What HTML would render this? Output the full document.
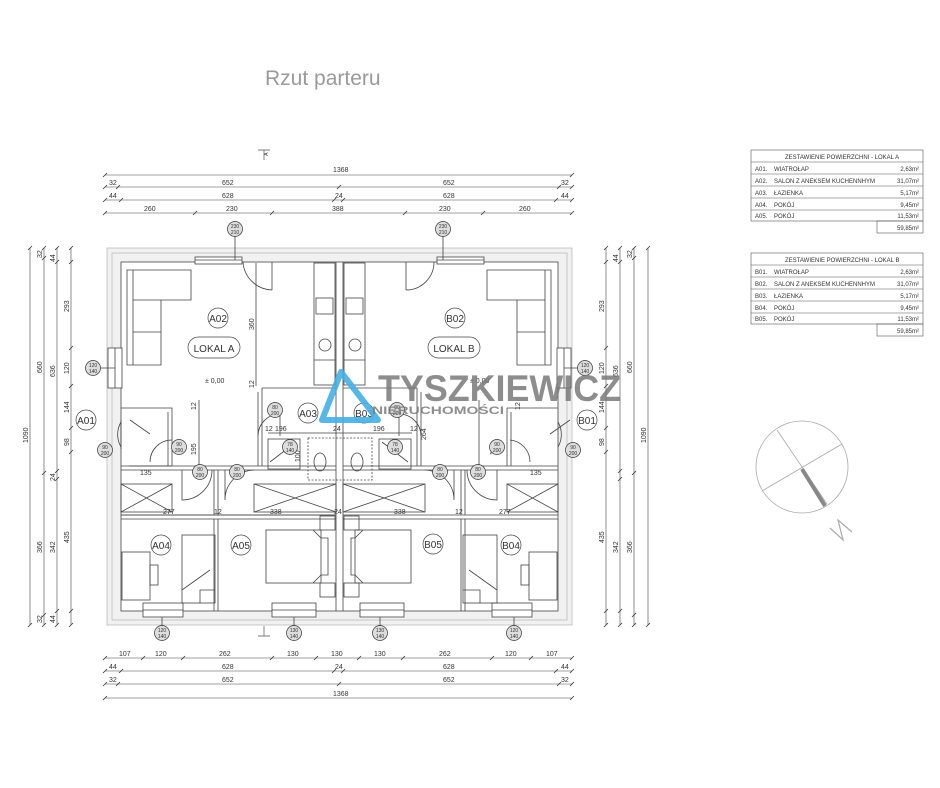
<!DOCTYPE html>
<html><head><meta charset="utf-8"><style>
html,body{margin:0;padding:0;background:#fff;}
svg{display:block;}
text{font-family:"Liberation Sans",sans-serif;fill:#333;}
.d{font-size:7px;}
.t{font-size:5.5px;}
</style></head><body>
<svg width="940" height="788" viewBox="0 0 940 788" xmlns="http://www.w3.org/2000/svg">
<rect width="940" height="788" fill="#fff"/>
<text x="265" y="85" style="font-size:21px;fill:#9a9a9a">Rzut parteru</text>

<g stroke="#555" stroke-width="0.7" fill="none">
<path d="M258 150 L270 150 M264 150 L264 160"/><path d="M258 636 L270 636 M264 636 L264 626"/>
</g>
<text x="262" y="158" class="t" transform="rotate(-90 264 154)">A</text>

<g stroke="#444" stroke-width="0.6" fill="none">
<line x1="105" y1="175" x2="572" y2="175"/>
<line x1="105" y1="187" x2="572" y2="187"/>
<line x1="105" y1="200" x2="572" y2="200"/>
<line x1="105" y1="213" x2="572" y2="213"/>
<line x1="105" y1="658" x2="572" y2="658"/>
<line x1="105" y1="671" x2="572" y2="671"/>
<line x1="105" y1="684" x2="572" y2="684"/>
<line x1="105" y1="698" x2="572" y2="698"/>
<line x1="30" y1="248" x2="30" y2="625"/>
<line x1="44" y1="248" x2="44" y2="625"/>
<line x1="57" y1="248" x2="57" y2="625"/>
<line x1="71" y1="248" x2="71" y2="625"/>
<line x1="606" y1="248" x2="606" y2="625"/>
<line x1="620" y1="248" x2="620" y2="625"/>
<line x1="634" y1="248" x2="634" y2="625"/>
<line x1="648" y1="248" x2="648" y2="625"/>
</g>
<g stroke="#333" stroke-width="0.8">
<path d="M103 177l4-4M570 177l4-4M103 189l4-4M116 189l4-4M337 189l4-4M557 189l4-4M570 189l4-4
M103 202l4-4M119 202l4-4M332 202l4-4M341 202l4-4M554 202l4-4M570 202l4-4
M103 215l4-4M193 215l4-4M270 215l4-4M403 215l4-4M481 215l4-4M570 215l4-4
M103 660l4-4M141 660l4-4M181 660l4-4M270 660l4-4M314 660l4-4M357 660l4-4M401 660l4-4M490 660l4-4M529 660l4-4M570 660l4-4
M103 673l4-4M119 673l4-4M332 673l4-4M341 673l4-4M554 673l4-4M570 673l4-4
M103 686l4-4M116 686l4-4M337 686l4-4M557 686l4-4M570 686l4-4M103 700l4-4M570 700l4-4
M28 250l4-4M28 627l4-4M42 250l4-4M42 260l4-4M42 475l4-4M42 617l4-4M42 627l4-4
M55 250l4-4M55 264l4-4M55 473l4-4M55 481l4-4M55 613l4-4M55 627l4-4
M69 250l4-4M69 264l4-4M69 350l4-4M69 388l4-4M69 430l4-4M69 454l4-4M69 613l4-4M69 627l4-4
M604 250l4-4M604 264l4-4M604 350l4-4M604 388l4-4M604 430l4-4M604 454l4-4M604 613l4-4M604 627l4-4
M618 250l4-4M618 264l4-4M618 473l4-4M618 481l4-4M618 613l4-4M618 627l4-4
M632 250l4-4M632 260l4-4M632 475l4-4M632 617l4-4M632 627l4-4M646 250l4-4M646 627l4-4"/>
</g>
<g class="d">
<text x="333" y="172" class="d">1368</text>
<text x="109" y="185" class="d">32</text><text x="222" y="185" class="d">652</text><text x="443" y="185" class="d">652</text><text x="561" y="185" class="d">32</text>
<text x="109" y="198" class="d">44</text><text x="222" y="198" class="d">628</text><text x="335" y="198" class="d">24</text><text x="443" y="198" class="d">628</text><text x="561" y="198" class="d">44</text>
<text x="144" y="211" class="d">260</text><text x="226" y="211" class="d">230</text><text x="332" y="211" class="d">388</text><text x="439" y="211" class="d">230</text><text x="519" y="211" class="d">260</text>
<text x="119" y="656" class="d">107</text><text x="155" y="656" class="d">120</text><text x="219" y="656" class="d">262</text><text x="287" y="656" class="d">130</text><text x="331" y="656" class="d">130</text><text x="374" y="656" class="d">130</text><text x="439" y="656" class="d">262</text><text x="505" y="656" class="d">120</text><text x="546" y="656" class="d">107</text>
<text x="109" y="669" class="d">44</text><text x="222" y="669" class="d">628</text><text x="335" y="669" class="d">24</text><text x="443" y="669" class="d">628</text><text x="561" y="669" class="d">44</text>
<text x="109" y="682" class="d">32</text><text x="222" y="682" class="d">652</text><text x="443" y="682" class="d">652</text><text x="561" y="682" class="d">32</text>
<text x="333" y="696" class="d">1368</text>
</g>
<g class="d">
<text transform="translate(28 443) rotate(-90)" class="d">1090</text>
<text transform="translate(42 258) rotate(-90)" class="d">32</text>
<text transform="translate(42 373) rotate(-90)" class="d">660</text>
<text transform="translate(42 553) rotate(-90)" class="d">366</text>
<text transform="translate(42 623) rotate(-90)" class="d">32</text>
<text transform="translate(55 262) rotate(-90)" class="d">44</text>
<text transform="translate(55 377) rotate(-90)" class="d">636</text>
<text transform="translate(55 481) rotate(-90)" class="d">24</text>
<text transform="translate(55 553) rotate(-90)" class="d">342</text>
<text transform="translate(55 623) rotate(-90)" class="d">44</text>
<text transform="translate(69 312) rotate(-90)" class="d">293</text>
<text transform="translate(69 374) rotate(-90)" class="d">120</text>
<text transform="translate(69 413) rotate(-90)" class="d">144</text>
<text transform="translate(69 446) rotate(-90)" class="d">98</text>
<text transform="translate(69 543) rotate(-90)" class="d">435</text>
<text transform="translate(604 312) rotate(-90)" class="d">293</text>
<text transform="translate(604 374) rotate(-90)" class="d">120</text>
<text transform="translate(604 413) rotate(-90)" class="d">144</text>
<text transform="translate(604 446) rotate(-90)" class="d">98</text>
<text transform="translate(604 543) rotate(-90)" class="d">435</text>
<text transform="translate(618 262) rotate(-90)" class="d">44</text>
<text transform="translate(618 377) rotate(-90)" class="d">636</text>
<text transform="translate(618 553) rotate(-90)" class="d">342</text>
<text transform="translate(632 258) rotate(-90)" class="d">32</text>
<text transform="translate(632 373) rotate(-90)" class="d">660</text>
<text transform="translate(632 553) rotate(-90)" class="d">366</text>
<text transform="translate(646 443) rotate(-90)" class="d">1090</text>
</g>

<!-- building walls -->
<path d="M107 248 H572 V625 H107 Z M121 262 V611 H558 V262 Z" fill="#f1f1f1" fill-rule="evenodd"/>
<g fill="none" stroke="#bbb" stroke-width="0.8">
<rect x="107" y="248" width="465" height="377"/>
<rect x="112" y="253" width="455" height="367"/>
</g>
<g fill="none" stroke="#444" stroke-width="0.8">
<rect x="121" y="262" width="437" height="349"/>
<line x1="336" y1="262" x2="336" y2="611"/><line x1="343" y1="262" x2="343" y2="611"/>
<path d="M262 388 L262 466 M262 388 L336 388 M343 388 L417 388 L417 466"/>
<path d="M258 392 L258 466 M421 392 L421 466"/>
<path d="M121 408 L172 408 L172 466 M168 412 L168 466 M558 408 L507 408 L507 466 M511 412 L511 466"/>
<path d="M121 466 L336 466 M121 470 L336 470 M343 466 L558 466 M343 470 L558 470"/>
<path d="M121 515 L336 515 M121 519 L336 519 M343 515 L558 515 M343 519 L558 519"/>
<path d="M214 519 L214 611 M218 519 L218 611 M461 519 L461 611 M465 519 L465 611"/>
<path d="M214 470 L214 515 M218 470 L218 515 M461 470 L461 515 M465 470 L465 515"/>
<rect x="121" y="484" width="51" height="28"/><path d="M121 484 L172 512 M172 484 L121 512"/>
<rect x="254" y="484" width="82" height="28"/><path d="M254 484 L336 512 M336 484 L254 512"/>
<rect x="343" y="484" width="82" height="28"/><path d="M343 484 L425 512 M425 484 L343 512"/>
<rect x="507" y="484" width="51" height="28"/><path d="M507 484 L558 512 M558 484 L507 512"/>
<path d="M272 262 L272 290 M272 290 A30 30 0 0 1 243 262"/>
<path d="M406 262 L406 290 M406 290 A28 28 0 0 0 434 262"/>
<path d="M182 470 L182 500 A 30 30 0 0 0 212 470" />
<path d="M225 470 L225 500 A 30 30 0 0 1 254 470" />
<path d="M497 470 L497 500 A 30 30 0 0 1 467 470" />
<path d="M454 470 L454 500 A 30 30 0 0 0 425 470" />
<path d="M258 436 A22 22 0 0 1 280 414 L280 436"/>
<path d="M421 436 A22 22 0 0 0 399 414 L399 436"/>
<path d="M121 422 A25 25 0 0 0 121 447 M121 420 L121 449"/>
<path d="M558 422 A25 25 0 0 1 558 447"/>
<path d="M172 440 A22 22 0 0 0 150 462 M510 440 A22 22 0 0 1 530 462"/>
<rect x="195" y="257" width="47" height="7" fill="#fff"/><line x1="195" y1="260" x2="242" y2="260"/>
<rect x="437" y="257" width="47" height="7" fill="#fff"/><line x1="437" y1="260" x2="484" y2="260"/>
<rect x="108" y="348" width="14" height="40" fill="#fff"/><line x1="115" y1="348" x2="115" y2="388"/>
<rect x="557" y="348" width="14" height="40" fill="#fff"/><line x1="564" y1="348" x2="564" y2="388"/>
<rect x="143" y="603" width="40" height="14" fill="#fff"/><line x1="143" y1="610" x2="183" y2="610"/>
<rect x="272" y="603" width="44" height="14" fill="#fff"/><line x1="272" y1="610" x2="316" y2="610"/>
<rect x="360" y="603" width="44" height="14" fill="#fff"/><line x1="360" y1="610" x2="404" y2="610"/>
<rect x="492" y="603" width="40" height="14" fill="#fff"/><line x1="492" y1="610" x2="532" y2="610"/>
<path d="M235 236 L235 260 M443 236 L443 260 M100 368 L115 368 M578 368 L564 368 M162 617 L162 626 M294 617 L294 626 M380 617 L380 626 M514 617 L514 626"/>
<rect x="314" y="263" width="21" height="122"/><rect x="344" y="263" width="21" height="122"/>
<rect x="316" y="298" width="17" height="16"/><rect x="346" y="298" width="17" height="16"/>
<circle cx="325" cy="345" r="6"/><circle cx="355" cy="345" r="6"/>
<line x1="314" y1="360" x2="335" y2="360"/><line x1="344" y1="360" x2="365" y2="360"/>
<path d="M127 270 L191 270 L191 300 L161 300 L161 365 L127 365 Z M133 270 L133 365 M133 300 L161 300 M133 332 L161 332"/>
<path d="M551 270 L487 270 L487 300 L517 300 L517 365 L551 365 Z M545 270 L545 365 M545 300 L517 300 M545 332 L517 332"/>
<rect x="268" y="439" width="32" height="30"/><path d="M270 462 L296 442"/>
<rect x="379" y="439" width="32" height="30"/><path d="M408 462 L382 442"/>
<rect x="308" y="438" width="64" height="42" stroke-dasharray="2 1.5"/>
<ellipse cx="320" cy="462" rx="6" ry="9"/><ellipse cx="357" cy="462" rx="6" ry="9"/>
<rect x="266" y="530" width="55" height="53"/><rect x="355" y="530" width="56" height="53"/>
<rect x="320" y="516" width="15" height="14"/><rect x="320" y="583" width="15" height="14"/>
<rect x="344" y="516" width="15" height="14"/><rect x="344" y="583" width="15" height="14"/>
<path d="M313 530 L321 538 L328 538 L328 575 L321 575 L313 583 M363 530 L355 538 L351 538 L351 575 L355 575 L363 583"/>
<rect x="182" y="535" width="33" height="68"/><path d="M182 590 L210 570 M200 603 L200 590 L215 590"/>
<rect x="463" y="535" width="34" height="68"/><path d="M497 590 L469 570 M480 603 L480 590 L463 590"/>
<rect x="122" y="552" width="28" height="48"/><rect x="150" y="565" width="8" height="20"/>
<rect x="529" y="552" width="28" height="48"/><rect x="521" y="565" width="8" height="20"/>
<path d="M256 263 L256 386 M121 515 L336 515 M268 433 L412 433 M199 400 L199 466 M479 400 L479 466 M129 466 L172 466"/>
<path d="M130 420 L150 434 M570 420 L550 434"/>
</g>
<g class="d">
<text transform="translate(254 330) rotate(-90)" class="d">360</text>
<text transform="translate(254 388) rotate(-90)" class="d">12</text>
<text x="275" y="431" class="d">196</text><text x="333" y="431" class="d">24</text><text x="373" y="431" class="d">196</text>
<text x="265" y="431" class="d">12</text><text x="410" y="431" class="d">12</text>
<text transform="translate(300 462) rotate(-90)" class="d">100</text>
<text transform="translate(426 440) rotate(-90)" class="d">264</text>
<text transform="translate(196 455) rotate(-90)" class="d">195</text>
<text transform="translate(495 455) rotate(-90)" class="d">195</text>
<text transform="translate(196 410) rotate(-90)" class="d">12</text>
<text transform="translate(520 410) rotate(-90)" class="d">12</text>
<text x="140" y="475" class="d">135</text><text x="530" y="475" class="d">135</text>
<text x="163" y="514" class="d">277</text><text x="270" y="514" class="d">338</text><text x="334" y="514" class="d">24</text><text x="394" y="514" class="d">338</text><text x="499" y="514" class="d">277</text>
<text x="214" y="514" class="d">12</text><text x="455" y="514" class="d">12</text>
<text x="205" y="383" class="d">± 0,00</text><text x="470" y="383" class="d">± 0,00</text>
</g>

<g fill="#ddd" stroke="#333" stroke-width="0.7">
<circle cx="235" cy="229" r="7.5"/><circle cx="443" cy="229" r="7.5"/>
<circle cx="93" cy="368" r="7.5"/><circle cx="585" cy="368" r="7.5"/>
<circle cx="162" cy="633" r="7.5"/><circle cx="294" cy="633" r="7.5"/><circle cx="380" cy="633" r="7.5"/><circle cx="514" cy="633" r="7.5"/>
<circle cx="105" cy="450" r="7.5"/><circle cx="179" cy="447" r="7.5"/><circle cx="497" cy="447" r="7.5"/><circle cx="573" cy="450" r="7.5"/>
<circle cx="200" cy="472" r="7.5"/><circle cx="237" cy="472" r="7.5"/><circle cx="440" cy="472" r="7.5"/><circle cx="478" cy="472" r="7.5"/>
<circle cx="275" cy="410" r="7.5"/><circle cx="397" cy="410" r="7.5"/>
<circle cx="290" cy="447" r="7.5"/><circle cx="395" cy="447" r="7.5"/>
</g>
<g text-anchor="middle">
<text x="235" y="228" style="font-size:5px">230</text><text x="235" y="234" style="font-size:5px">210</text>
<text x="443" y="228" style="font-size:5px">230</text><text x="443" y="234" style="font-size:5px">210</text>
<text x="93" y="367" style="font-size:5px">120</text><text x="93" y="373" style="font-size:5px">140</text>
<text x="585" y="367" style="font-size:5px">120</text><text x="585" y="373" style="font-size:5px">140</text>
<text x="162" y="632" style="font-size:5px">120</text><text x="162" y="638" style="font-size:5px">140</text>
<text x="294" y="632" style="font-size:5px">130</text><text x="294" y="638" style="font-size:5px">140</text>
<text x="380" y="632" style="font-size:5px">130</text><text x="380" y="638" style="font-size:5px">140</text>
<text x="514" y="632" style="font-size:5px">120</text><text x="514" y="638" style="font-size:5px">140</text>
<text x="105" y="449" style="font-size:5px">90</text><text x="105" y="455" style="font-size:5px">200</text>
<text x="179" y="446" style="font-size:5px">90</text><text x="179" y="452" style="font-size:5px">200</text>
<text x="497" y="446" style="font-size:5px">90</text><text x="497" y="452" style="font-size:5px">200</text>
<text x="573" y="449" style="font-size:5px">90</text><text x="573" y="455" style="font-size:5px">200</text>
<text x="200" y="471" style="font-size:5px">80</text><text x="200" y="477" style="font-size:5px">200</text>
<text x="237" y="471" style="font-size:5px">80</text><text x="237" y="477" style="font-size:5px">200</text>
<text x="440" y="471" style="font-size:5px">80</text><text x="440" y="477" style="font-size:5px">200</text>
<text x="478" y="471" style="font-size:5px">80</text><text x="478" y="477" style="font-size:5px">200</text>
<text x="275" y="409" style="font-size:5px">80</text><text x="275" y="415" style="font-size:5px">200</text>
<text x="397" y="409" style="font-size:5px">80</text><text x="397" y="415" style="font-size:5px">200</text>
<text x="290" y="446" style="font-size:5px">78</text><text x="290" y="452" style="font-size:5px">140</text>
<text x="395" y="446" style="font-size:5px">78</text><text x="395" y="452" style="font-size:5px">140</text>
</g>

<g fill="#fff" stroke="#444" stroke-width="0.7">
<circle cx="218" cy="318" r="10"/><circle cx="455" cy="318" r="10"/>
<rect x="188" y="337" width="52" height="21" rx="10.5"/><rect x="428" y="337" width="52" height="21" rx="10.5"/>
<circle cx="308" cy="413" r="10"/><circle cx="364" cy="413" r="10"/>
<circle cx="86" cy="420" r="10"/><circle cx="587" cy="420" r="10"/>
<circle cx="161" cy="545" r="10"/><circle cx="241" cy="545" r="10"/><circle cx="433" cy="544" r="10"/><circle cx="511" cy="545" r="10"/>
</g>
<g text-anchor="middle">
<text x="218" y="322" style="font-size:10px">A02</text><text x="455" y="322" style="font-size:10px">B02</text>
<text x="214" y="352" style="font-size:10px">LOKAL A</text><text x="454" y="352" style="font-size:10px">LOKAL B</text>
<text x="308" y="417" style="font-size:10px">A03</text><text x="364" y="417" style="font-size:10px">B03</text>
<text x="86" y="424" style="font-size:10px">A01</text><text x="587" y="424" style="font-size:10px">B01</text>
<text x="161" y="549" style="font-size:10px">A04</text><text x="241" y="549" style="font-size:10px">A05</text>
<text x="433" y="548" style="font-size:10px">B05</text><text x="511" y="549" style="font-size:10px">B04</text>
</g>

<path d="M341 372 L322 420 L378 420 Z" fill="none" stroke="#45b0e5" stroke-width="6" stroke-linejoin="round" opacity="0.9"/>
<text x="378" y="401" textLength="243" lengthAdjust="spacingAndGlyphs" style="font-size:37px;font-weight:bold;fill:#7a7a7a" opacity="0.85">TYSZKIEWICZ</text>
<text x="372" y="414" textLength="132" lengthAdjust="spacingAndGlyphs" style="font-size:11px;font-weight:bold;fill:#7a7a7a" opacity="0.85">NIERUCHOMOŚCI</text>

<g fill="none" stroke="#555" stroke-width="0.6">
<rect x="751" y="150" width="172" height="71"/>
<path d="M751 162 H923 M751 174 H923 M751 186 H923 M751 198 H923 M751 210 H923"/>
<rect x="877" y="221" width="46" height="12"/>
<rect x="751" y="253" width="172" height="71"/>
<path d="M751 265 H923 M751 277 H923 M751 289 H923 M751 301 H923 M751 313 H923"/>
<rect x="877" y="324" width="46" height="12"/>
</g>
<g>
<text x="785" y="159" style="font-size:6px">ZESTAWIENIE POWIERZCHNI - LOKAL A</text>
<text x="755" y="171" style="font-size:6px">A01.</text><text x="774" y="171" style="font-size:6px">WIATROŁAP</text><text x="919" y="171" text-anchor="end" style="font-size:6px">2,63m²</text>
<text x="755" y="183" style="font-size:6px">A02.</text><text x="774" y="183" style="font-size:6px">SALON Z ANEKSEM KUCHENNHYM</text><text x="919" y="183" text-anchor="end" style="font-size:6px">31,07m²</text>
<text x="755" y="195" style="font-size:6px">A03.</text><text x="774" y="195" style="font-size:6px">ŁAZIENKA</text><text x="919" y="195" text-anchor="end" style="font-size:6px">5,17m²</text>
<text x="755" y="207" style="font-size:6px">A04.</text><text x="774" y="207" style="font-size:6px">POKÓJ</text><text x="919" y="207" text-anchor="end" style="font-size:6px">9,45m²</text>
<text x="755" y="218" style="font-size:6px">A05.</text><text x="774" y="218" style="font-size:6px">POKÓJ</text><text x="919" y="218" text-anchor="end" style="font-size:6px">11,53m²</text>
<text x="919" y="230" text-anchor="end" style="font-size:6px">59,85m²</text>
<text x="785" y="262" style="font-size:6px">ZESTAWIENIE POWIERZCHNI - LOKAL B</text>
<text x="755" y="274" style="font-size:6px">B01.</text><text x="774" y="274" style="font-size:6px">WIATROŁAP</text><text x="919" y="274" text-anchor="end" style="font-size:6px">2,63m²</text>
<text x="755" y="286" style="font-size:6px">B02.</text><text x="774" y="286" style="font-size:6px">SALON Z ANEKSEM KUCHENNHYM</text><text x="919" y="286" text-anchor="end" style="font-size:6px">31,07m²</text>
<text x="755" y="298" style="font-size:6px">B03.</text><text x="774" y="298" style="font-size:6px">ŁAZIENKA</text><text x="919" y="298" text-anchor="end" style="font-size:6px">5,17m²</text>
<text x="755" y="310" style="font-size:6px">B04.</text><text x="774" y="310" style="font-size:6px">POKÓJ</text><text x="919" y="310" text-anchor="end" style="font-size:6px">9,45m²</text>
<text x="755" y="321" style="font-size:6px">B05.</text><text x="774" y="321" style="font-size:6px">POKÓJ</text><text x="919" y="321" text-anchor="end" style="font-size:6px">11,53m²</text>
<text x="919" y="333" text-anchor="end" style="font-size:6px">59,85m²</text>
</g>

<g fill="none" stroke="#aaa" stroke-width="0.8">
<circle cx="802" cy="467" r="46"/>
<line x1="777" y1="430" x2="827" y2="504"/>
<line x1="762" y1="491" x2="842" y2="444"/>
</g>
<line x1="802" y1="469" x2="825" y2="506" stroke="#888" stroke-width="4"/>
<path d="M830 528 L843 540 L838 520 L852 532" fill="none" stroke="#aaa" stroke-width="1.2"/>
</svg>
</body></html>
